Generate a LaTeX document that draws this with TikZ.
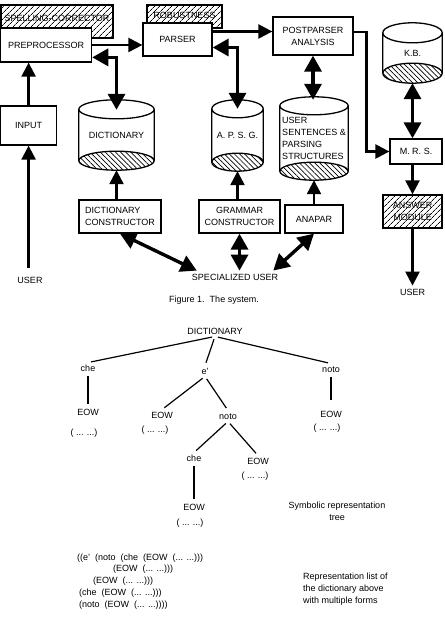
\documentclass[tikz,border=0pt]{standalone}
\usepackage{fontspec}
\setmainfont{Liberation Sans}
\usetikzlibrary{arrows.meta,positioning,calc,patterns.meta}
\tikzset{
  box/.style={draw,line width=1.3pt,fill=white,align=center,font=\fontsize{9}{12}\selectfont,inner sep=0pt},
  hatchbox/.style={box,pattern={Lines[angle=45,distance=4pt,line width=0.7pt]}},
  dbase/.style={align=center,font=\fontsize{9}{12}\selectfont,inner sep=0pt},
  dbhatch/.style={draw,line width=1.3pt,pattern={Lines[angle=-45,distance=3.6pt,line width=0.7pt]}},
  term/.style={font=\fontsize{9}{12}\selectfont,inner sep=3pt},
  flow/.style={-{Triangle[length=14pt,width=14pt]},line width=2.4pt},
  bflow/.style={{Triangle[length=16pt,width=17pt]}-{Triangle[length=16pt,width=17pt]},line width=3.4pt},
  tnode/.style={font=\fontsize{9}{11}\selectfont,inner sep=2pt,text height=6.5pt,text depth=0pt},
  tedge/.style={line width=1.2pt,shorten <=3pt,shorten >=3pt},
  note/.style={inner sep=0pt,font=\fontsize{9}{11.75}\selectfont}
}
% cylinder outline round a named node, #2 = radius of the end ellipses
\newcommand{\cylbody}[2]{%
  \draw[line width=1.3pt] let \p1=(#1.north west), \p2=(#1.south east), \n1={(\x2-\x1)/2} in
    (\x1+\n1,\y1-#2) ellipse[x radius=\n1,y radius=#2]
    (\x1,\y1-#2) -- (\x1,\y2+#2)
    (\x2,\y1-#2) -- (\x2,\y2+#2);
  \draw[dbhatch] let \p1=(#1.north west), \p2=(#1.south east), \n1={(\x2-\x1)/2} in
    (\x1+\n1,\y2+#2) ellipse[x radius=\n1,y radius=#2];}

\begin{document}
\begin{tikzpicture}[x=1pt,y=-1pt]
  \useasboundingbox (0,0) rectangle (444,617);
  \node[hatchbox,minimum width=112pt,minimum height=33pt,text depth=5.5pt] (spell) at (57,21.5) {SPELLING-CORRECTOR};
  \node[box,minimum width=91pt,minimum height=34pt] (prep) at (46.1,45) {PREPROCESSOR};
  \node[hatchbox,minimum width=75pt,minimum height=23pt,text depth=3pt] (robust) at (184.5,16.5) {ROBUSTNESS};
  \node[box,minimum width=69pt,minimum height=33pt] (parser) at (177.5,39.5) {PARSER};
  \node[box,minimum width=80pt,minimum height=38pt] (post) at (313,36) {POSTPARSER\\ANALYSIS};
  \node[box,minimum width=56pt,minimum height=39pt] (input) at (28.6,125.5) {INPUT};
  \node[dbase,minimum width=75pt,minimum height=70pt] (dict) at (116.5,135) {DICTIONARY};
  \node[dbase,minimum width=51pt,minimum height=71pt] (apsg) at (237.5,135.5) {A. P. S. G.};
  \node[dbase,align=left,minimum width=68pt,minimum height=83pt] (usersent) at (314,138.5) {USER\\SENTENCES \&\\PARSING\\STRUCTURES};
  \node[dbase,minimum width=59pt,minimum height=60pt] (kb) at (412.5,53) {K.B.};
  \cylbody{dict}{9.5pt}
  \cylbody{apsg}{9pt}
  \cylbody{usersent}{9pt}
  \cylbody{kb}{10pt}
  \node[box,minimum width=52pt,minimum height=25pt] (mrs) at (416,151.5) {M. R. S.};
  \node[hatchbox,minimum width=59pt,minimum height=33pt] (answer) at (412.5,211.5) {ANSWER\\MODULE};
  \node[box,align=left,minimum width=82pt,minimum height=33pt] (dictcon) at (120,216.5) {DICTIONARY\\CONSTRUCTOR};
  \node[box,minimum width=81pt,minimum height=33pt] (gramcon) at (239.5,216.5) {GRAMMAR\\CONSTRUCTOR};
  \node[box,minimum width=58pt,minimum height=28pt] (anapar) at (314,219) {ANAPAR};
  \node[term] (user1) at (30,280) {USER};
  \node[term] (spec) at (235,277) {SPECIALIZED USER};
  \node[term] (user3) at (412.5,292) {USER};
  \node[term] (caption) at (214,300) {Figure 1.\ \ The system.};

  \draw[flow] (input.north) -- (input.north |- prep.south);
  \draw[flow,shorten <=6pt] (user1.north -| input.south) -- (input.south);
  \draw[flow] (prep.east) -- (prep.east -| parser.west);
  \draw[flow] ([yshift=8pt]parser.east) -- ([yshift=8pt]parser.east -| post.west);
  \draw[flow] ([yshift=4pt]post.east) -| ([xshift=-23pt]mrs.west) -- (mrs.west);
  \draw[bflow] (kb.south) -- (kb.south |- mrs.north);
  \draw[flow] (answer.north |- mrs.south) -- (answer.north);
  \draw[flow] (answer.south) -- (answer.south |- user3.north);
  \draw[bflow] (prep.-15) -| ([yshift=-10pt]dict.north);
  \draw[bflow] ([yshift=-8pt]parser.east) -| ([yshift=-9pt]apsg.north);
  \draw[bflow] (post.south) -- ([yshift=-3pt]post.south |- usersent.north);
  \draw[flow] (dictcon.north -| dict.south) -- (dict.south);
  \draw[flow] (gramcon.north -| apsg.south) -- (apsg.south);
  \draw[flow] (anapar.north) -- (usersent.south);
  \draw[bflow] (dictcon.south) -- ([xshift=8pt]spec.north west);
  \draw[bflow] (gramcon.south) -- (gramcon.south |- spec.north);
  \draw[bflow] (anapar.south) -- ([xshift=-8pt]spec.north east);

  \node[tnode] (troot) at (215,331) {DICTIONARY};
  \node[tnode] (che1) at (88,368) {che};
  \node[tnode] (eacc) at (205,371) {e'};
  \node[tnode] (noto1) at (331,369) {noto};
  \node[tnode] (eow1) at (88,412) {EOW};
  \node[tnode] (eow2) at (162,415) {EOW};
  \node[tnode] (noto2) at (228,416) {noto};
  \node[tnode] (eow3) at (331,414) {EOW};
  \node[tnode] (che2) at (194,458) {che};
  \node[tnode] (eow4) at (258,461) {EOW};
  \node[tnode] (eow5) at (194,507) {EOW};
  \node[tnode,below=9.5pt of eow1,xshift=-4pt] (dots1) {( ... ...)};
  \node[tnode,below=3.5pt of eow2,xshift=-7pt] (dots2) {( ... ...)};
  \node[tnode,below=2.5pt of eow3,xshift=-4pt] (dots3) {( ... ...)};
  \node[tnode,below=3.5pt of eow4,xshift=-3pt] (dots4) {( ... ...)};
  \node[tnode,below=4.5pt of eow5,xshift=-4pt] (dots5) {( ... ...)};
  \draw[tedge] (troot.south) -- (che1.north);
  \draw[tedge] (troot.south) -- (eacc.north);
  \draw[tedge] (troot.south) -- (noto1.north);
  \draw[tedge] (che1.south) -- (eow1.north);
  \draw[tedge] (eacc.south) -- (eow2.north);
  \draw[tedge] (eacc.south) -- (noto2.north);
  \draw[tedge,shorten >=9pt] (noto1.south) -- (eow3.north);
  \draw[tedge] (noto2.south) -- (che2.north);
  \draw[tedge] (noto2.south) -- (eow4.north);
  \draw[tedge] (che2.south) -- (eow5.north);

  \node[note,align=center] (symlbl) at (337,511.5) {Symbolic representation\\tree};
  \node[note,align=left,anchor=west] (replist) at (77,581.2) {((e'~~(noto~~(che~~(EOW~~(... ...)))\\
    \hspace*{36pt}(EOW~~(... ...)))\\
    \hspace*{16pt}(EOW~~(... ...)))\\
    \hspace*{2pt}(che~~(EOW~~(... ...)))\\
    \hspace*{2pt}(noto~~(EOW~~(... ...))))};
  \node[note,align=left,anchor=west] (replbl) at (303,589) {Representation list of\\the dictionary above\\with multiple forms};
\end{tikzpicture}
\end{document}
